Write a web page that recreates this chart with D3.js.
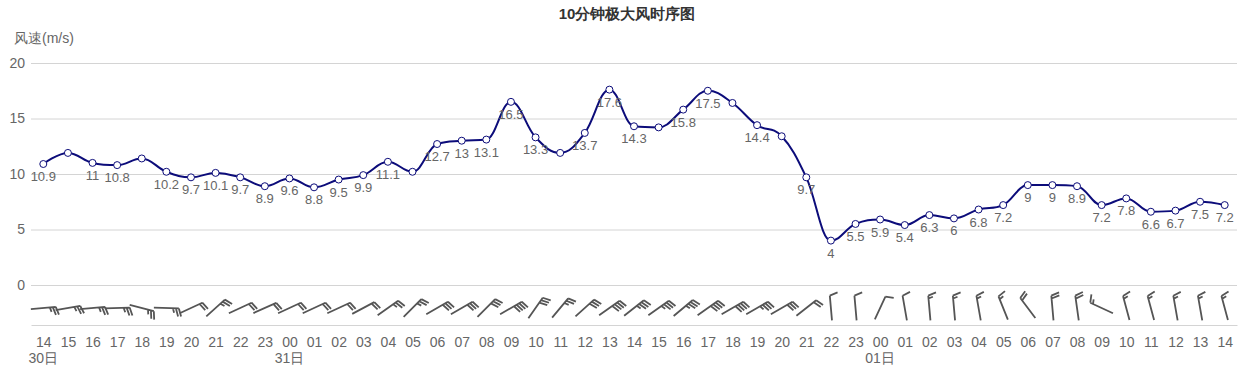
<!DOCTYPE html>
<html>
<head>
<meta charset="utf-8">
<script src="https://cdn.jsdelivr.net/npm/d3@7"></script>
<style>
body { margin: 0; background: #fff; }
text { font-family: "Liberation Sans", Arial, sans-serif; }
</style>
</head>
<body>
<div id="chart"></div>
<script>
// hours along the x axis
var hours = ['14','15','16','17','18','19','20','21','22','23',
             '00','01','02','03','04','05','06','07','08','09','10','11','12','13',
             '14','15','16','17','18','19','20','21','22','23',
             '00','01','02','03','04','05','06','07','08','09','10','11','12','13','14'];
var dayLabels = ['30日', '31日', '01日'];

// 10 min max wind speed, m/s
var speeds = [10.9, 11.9, 11, 10.8, 11.4, 10.2, 9.7, 10.1, 9.7, 8.9,
              9.6, 8.8, 9.5, 9.9, 11.1, 10.2, 12.7, 13, 13.1, 16.5, 13.3, 11.9, 13.7, 17.6,
              14.3, 14.2, 15.8, 17.5, 16.4, 14.4, 13.4, 9.7, 4, 5.5,
              5.9, 5.4, 6.3, 6, 6.8, 7.2, 9, 9, 8.9, 7.2, 7.8, 6.6, 6.7, 7.5, 7.2];

// wind direction, degrees (where it blows from)
var directions = [85, 80, 85, 88, 105, 92, 65, 48, 65, 66,
                  65, 65, 65, 62, 55, 45, 60, 60, 45, 60, 35, 40, 48, 55,
                  52, 55, 50, 55, 60, 60, 60, 52, 355, 355,
                  25, 350, 355, 355, 350, 338, 323, 355, 352, 295, 345, 345, 350, 350, 345];

var yTicks = [0, 5, 10, 15, 20];

var width = 1254;
var height = 371;
var plotLeft = 31;
var plotRight = 1237;
var plotTop = 63;
var plotBottom = 285;
var barbBottom = 325;
var barbCenter = 308;
var barbLen = 25;

var svg = d3.select('#chart').append('svg')
    .attr('width', width)
    .attr('height', height);

var x = d3.scalePoint()
    .domain(d3.range(hours.length))
    .range([plotLeft, plotRight])
    .padding(0.5);

var y = d3.scaleLinear()
    .domain([0, 20])
    .range([plotBottom, plotTop]);

// title
svg.append('text')
    .attr('x', width / 2)
    .attr('y', 19)
    .attr('text-anchor', 'middle')
    .attr('font-size', '15px')
    .attr('font-weight', 'bold')
    .attr('fill', '#333')
    .text('10分钟极大风时序图');

svg.append('text')
    .attr('x', 14)
    .attr('y', 43)
    .attr('font-size', '14px')
    .attr('fill', '#666')
    .text('风速(m/s)');

// y axis + grid
var yAxis = svg.append('g')
    .attr('transform', 'translate(' + plotLeft + ',0)')
    .call(d3.axisLeft(y).tickValues(yTicks).tickSize(-(plotRight - plotLeft)).tickPadding(6));
yAxis.select('.domain').remove();
yAxis.selectAll('line').attr('stroke', '#d4d4d4');
yAxis.selectAll('text').attr('font-size', '14px').attr('fill', '#666').attr('font-family', null);

// x axis under the barbs
var xAxis = svg.append('g')
    .attr('transform', 'translate(0,' + barbBottom + ')')
    .call(d3.axisBottom(x).tickSize(0).tickSizeOuter(0).tickPadding(12)
        .tickFormat(function (i) { return hours[i]; }));
xAxis.select('.domain').attr('stroke', '#d4d4d4');
xAxis.selectAll('text').attr('font-size', '14px').attr('fill', '#666').attr('font-family', null);

// day labels: first point and each midnight
var dayCount = 0;
hours.forEach(function (h, i) {
    if (i === 0 || h === '00') {
        svg.append('text')
            .attr('x', x(i))
            .attr('y', 363)
            .attr('text-anchor', 'middle')
            .attr('font-size', '14px')
            .attr('fill', '#666')
            .text(dayLabels[dayCount++]);
    }
});

// spline like highcharts
function splinePath(pts) {
    var smoothing = 1.5, denom = smoothing + 1;
    var ctl = pts.map(function (p) { return { lx: p.x, ly: p.y, rx: p.x, ry: p.y }; });
    for (var i = 1; i < pts.length - 1; i++) {
        var p = pts[i], a = pts[i - 1], b = pts[i + 1];
        var lx = (smoothing * p.x + a.x) / denom;
        var ly = (smoothing * p.y + a.y) / denom;
        var rx = (smoothing * p.x + b.x) / denom;
        var ry = (smoothing * p.y + b.y) / denom;
        if (rx !== lx) {
            var corr = ((ry - ly) * (rx - p.x)) / (rx - lx) + p.y - ry;
            ly += corr;
            ry += corr;
        }
        if (ly > a.y && ly > p.y) {
            ly = Math.max(a.y, p.y);
            ry = 2 * p.y - ly;
        } else if (ly < a.y && ly < p.y) {
            ly = Math.min(a.y, p.y);
            ry = 2 * p.y - ly;
        }
        if (ry > b.y && ry > p.y) {
            ry = Math.max(b.y, p.y);
            ly = 2 * p.y - ry;
        } else if (ry < b.y && ry < p.y) {
            ry = Math.min(b.y, p.y);
            ly = 2 * p.y - ry;
        }
        ctl[i] = { lx: lx, ly: ly, rx: rx, ry: ry };
    }
    var path = d3.path();
    path.moveTo(pts[0].x, pts[0].y);
    for (var j = 1; j < pts.length; j++) {
        path.bezierCurveTo(ctl[j - 1].rx, ctl[j - 1].ry, ctl[j].lx, ctl[j].ly, pts[j].x, pts[j].y);
    }
    return path.toString();
}

var points = speeds.map(function (v, i) { return { x: x(i), y: y(v), v: v }; });

svg.append('path')
    .attr('d', splinePath(points))
    .attr('fill', 'none')
    .attr('stroke', '#0c0c7a')
    .attr('stroke-width', 2);

svg.selectAll('circle.pt')
    .data(points)
    .enter()
    .append('circle')
    .attr('class', 'pt')
    .attr('cx', function (d) { return d.x; })
    .attr('cy', function (d) { return d.y; })
    .attr('r', 3.5)
    .attr('fill', '#fff')
    .attr('stroke', '#0c0c7a')
    .attr('stroke-width', 1);

var labels = svg.selectAll('text.dl')
    .data(points)
    .enter()
    .append('text')
    .attr('class', 'dl')
    .attr('x', function (d) { return d.x; })
    .attr('y', function (d) { return d.y + 12.5; })
    .attr('dy', '0.35em')
    .attr('text-anchor', 'middle')
    .attr('font-size', '13px')
    .attr('fill', '#666')
    .text(function (d) { return d.v; });

// hide overlapping labels, later one loses
var boxes = [];
labels.each(function () { boxes.push(this.getBBox()); });
var shown = boxes.map(function () { return true; });
var pad = 1;
for (var i = 0; i < boxes.length; i++) {
    for (var j = i + 1; j < boxes.length; j++) {
        if (!shown[i] || !shown[j]) continue;
        var a = boxes[i], b = boxes[j];
        if (a.x - pad < b.x + b.width + pad && b.x - pad < a.x + a.width + pad &&
            a.y - pad < b.y + b.height + pad && b.y - pad < a.y + a.height + pad) {
            shown[j] = false;
        }
    }
}
labels.attr('display', function (d, i) { return shown[i] ? null : 'none'; });

// wind barbs: 20 m/s pennant, 4 m/s full barb, 2 m/s half barb
function barbPath(v) {
    var half = barbLen / 2;
    var d = 'M0,' + half + 'L0,' + (-half);
    var pos = -half;
    var rest = v;
    var n = Math.floor(rest / 20);
    rest -= n * 20;
    while (n-- > 0) {
        d += 'M0,' + pos + 'L8,' + (pos - 1) + 'L0,' + (pos + 4);
        pos += 6;
    }
    n = Math.floor(rest / 4);
    rest -= n * 4;
    while (n-- > 0) {
        d += 'M0,' + pos + 'L8,' + (pos - 2.5);
        pos += 3;
    }
    n = Math.floor(rest / 2);
    while (n-- > 0) {
        d += 'M0,' + pos + 'L4.5,' + (pos - 1.4);
        pos += 3;
    }
    return d;
}

svg.selectAll('path.barb')
    .data(speeds)
    .enter()
    .append('path')
    .attr('class', 'barb')
    .attr('transform', function (d, i) {
        return 'translate(' + x(i) + ',' + barbCenter + ') rotate(' + directions[i] + ')';
    })
    .attr('d', function (d) { return barbPath(d); })
    .attr('fill', 'none')
    .attr('stroke', '#555')
    .attr('stroke-width', 1.8);
</script>
</body>
</html>
